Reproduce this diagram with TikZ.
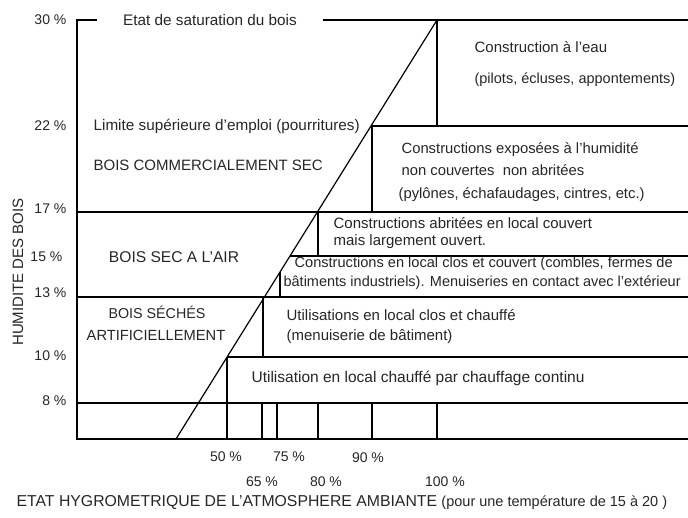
\documentclass[tikz,border=0pt]{standalone}
\usepackage{fontspec}
\setmainfont{Liberation Sans}

\begin{document}
\begin{tikzpicture}[x=1pt,y=-1pt,line width=1.2pt,
            every node/.style={inner sep=1pt,text=black!85,font=\fontsize{15}{18}\selectfont},
            sz/.style={font=\fontsize{#1}{18}\selectfont},
            txt/.style={anchor=west},
            pct/.style={anchor=east,sz=14}]
  \useasboundingbox (0,0) rectangle (688,518);
  \node[inner xsep=26pt,sz=15.3] (sat) at (210,20) {Etat de saturation du bois};
  \draw (sat.west)--(77,20)--(77,439)--(688,439);
  \draw (sat.east)--(688,20);
  \draw (372,126)--(688,126);
  \draw (77,212)--(688,212);
  \draw (290,256)--(688,256);
  \draw (77,297)--(688,297);
  \draw (227,357)--(688,357);
  \draw (77,403)--(688,403);
  \draw (176,439)--(437,20);
  \draw (437,20)--(437,126);
  \draw (372,126)--(372,212);
  \draw (318,212)--(318,256);
  \draw (280,272)--(280,297);
  \draw (263,297)--(263,357);
  \draw (227,357)--(227,439);
  \foreach \x in {262,277,318,372,437}
    \draw (\x,403)--(\x,439);
  \node[pct] (p30) at (68,20) {30 \%};
  \node[pct] (p22) at (68,126) {22 \%};
  \node[pct] (p17) at (68,209) {17 \%};
  \node[pct] (p15) at (64,257) {15 \%};
  \node[pct] (p13) at (68,293) {13 \%};
  \node[pct] (p10) at (68,356) {10 \%};
  \node[pct] (p8) at (68,401) {8 \%};
  \node[rotate=90] (hum) at (18,272) {HUMIDITE DES BOIS};
  \node[txt] (eau1) at (473,47) {Construction à l'eau};
  \node[txt,sz=14.5] (eau2) at (473,80) {(pilots, écluses, appontements)};
  \node[txt,sz=15.3] (lim) at (92,126) {Limite supérieure d'emploi (pourritures)};
  \node[txt] (com) at (92,165) {BOIS COMMERCIALEMENT SEC};
  \node[txt,sz=14.8] (exp1) at (400,150) {Constructions exposées à l'humidité};
  \node[txt,sz=14.8] (exp2) at (400,170) {non couvertes\ \ non abritées};
  \node[txt,sz=14.8] (exp3) at (397,195) {(pylônes, échafaudages, cintres, etc.)};
  \node[txt] (abr1) at (332,223) {Constructions abritées en local couvert};
  \node[txt] (abr2) at (332,242) {mais largement ouvert.};
  \node[txt,sz=14.6] (clo1) at (293,264) {Constructions en local clos et couvert (combles, fermes de};
  \node[txt,sz=14.5] (clo2) at (282,283) {bâtiments industriels). Menuiseries en contact avec l'extérieur};
  \node[txt] (ch1) at (285,315) {Utilisations en local clos et chauffé};
  \node[txt] (ch2) at (285,337) {(menuiserie de bâtiment)};
  \node[txt,sz=15.5] (cont) at (250,378) {Utilisation en local chauffé par chauffage continu};
  \node[sz=15.6] (air) at (174,257) {BOIS SEC A L'AIR};
  \node[sz=14.3] (art1) at (157,312) {BOIS SÉCHÉS};
  \node[sz=14.7] (art2) at (156,335) {ARTIFICIELLEMENT};
  \node[sz=14] (h50) at (226,457) {50 \%};
  \node[sz=14] (h75) at (289,457) {75 \%};
  \node[sz=14] (h90) at (368,458) {90 \%};
  \node[sz=14] (h65) at (262,482) {65 \%};
  \node[sz=14] (h80) at (326,482) {80 \%};
  \node[sz=14] (h100) at (445,482) {100 \%};
  \node[txt,sz=15.8] (titre) at (15,502) {ETAT HYGROMETRIQUE DE L'ATMOSPHERE AMBIANTE {\fontsize{14.5}{17}\selectfont (pour une température de 15 à 20 )}};
\end{tikzpicture}
\end{document}
